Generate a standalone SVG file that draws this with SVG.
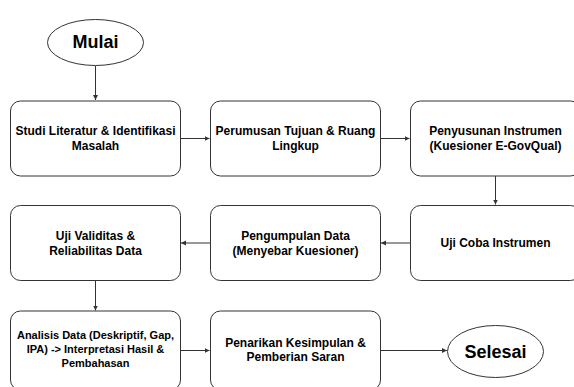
<svg xmlns="http://www.w3.org/2000/svg" width="574" height="387" viewBox="0 0 574 387">
<style>
.n{fill:#ffffff;stroke:#333333;stroke-width:1}
.t{font-family:"Liberation Sans",Arial,sans-serif;font-weight:bold;font-size:12px;fill:#000;text-anchor:middle}
.big{font-size:18px}
.sm{font-size:11px}
.c{stroke:#333333;stroke-width:1;fill:none;marker-end:url(#ah)}
</style>
<defs>
<marker id="ah" markerWidth="6" markerHeight="6" refX="5" refY="3" orient="auto" markerUnits="userSpaceOnUse">
<path d="M0,0.5 L5,3 L0,5.5 Z" fill="#333333"/>
</marker>
</defs>
<rect width="574" height="387" fill="#ffffff"/>
<g id="connectors">
<path class="c" d="M95.5,66 V100"/>
<path class="c" d="M180.5,138.5 H209.5"/>
<path class="c" d="M380.5,138.5 H409.5"/>
<path class="c" d="M495.5,176 V204.5"/>
<path class="c" d="M410.5,243 H381"/>
<path class="c" d="M210.5,243 H181"/>
<path class="c" d="M95.5,281 V310.5"/>
<path class="c" d="M180.5,350.5 H209.5"/>
<path class="c" d="M380.5,350.5 H447"/>
</g>
<g id="mulai">
<ellipse class="n" cx="95.5" cy="42.5" rx="48" ry="23"/>
<text class="t big" x="95.5" y="48">Mulai</text>
</g>
<g id="studi">
<rect class="n" x="10.5" y="101" width="170" height="75" rx="10"/>
<text class="t" x="95.5" y="135.3">Studi Literatur &amp; Identifikasi</text>
<text class="t" x="95.5" y="150.3">Masalah</text>
</g>
<g id="perumusan">
<rect class="n" x="210.5" y="101" width="170" height="75" rx="10"/>
<text class="t" x="295.5" y="135.3">Perumusan Tujuan &amp; Ruang</text>
<text class="t" x="295.5" y="150.3">Lingkup</text>
</g>
<g id="penyusunan">
<rect class="n" x="410.5" y="101" width="170" height="75" rx="10"/>
<text class="t" x="495.5" y="135.3">Penyusunan Instrumen</text>
<text class="t" x="495.5" y="150.3">(Kuesioner E-GovQual)</text>
</g>
<g id="ujicoba">
<rect class="n" x="410.5" y="205.5" width="170" height="75" rx="10"/>
<text class="t" x="495.5" y="247.3">Uji Coba Instrumen</text>
</g>
<g id="pengumpulan">
<rect class="n" x="210.5" y="205.5" width="170" height="75" rx="10"/>
<text class="t" x="295.5" y="239.8">Pengumpulan Data</text>
<text class="t" x="295.5" y="254.8">(Menyebar Kuesioner)</text>
</g>
<g id="validitas">
<rect class="n" x="10.5" y="205.5" width="170" height="75" rx="10"/>
<text class="t" x="95.5" y="239.8">Uji Validitas &amp;</text>
<text class="t" x="95.5" y="254.8">Reliabilitas Data</text>
</g>
<g id="analisis">
<rect class="n" x="10.5" y="311" width="170" height="79" rx="10"/>
<text class="t sm" x="95.5" y="339.3">Analisis Data (Deskriptif, Gap,</text>
<text class="t sm" x="95.5" y="353.3">IPA) -&gt; Interpretasi Hasil &amp;</text>
<text class="t sm" x="95.5" y="367.3">Pembahasan</text>
</g>
<g id="penarikan">
<rect class="n" x="210.5" y="311" width="170" height="79" rx="10"/>
<text class="t" x="295.5" y="346.5">Penarikan Kesimpulan &amp;</text>
<text class="t" x="295.5" y="361">Pemberian Saran</text>
</g>
<g id="selesai">
<ellipse class="n" cx="495.5" cy="351.5" rx="48" ry="26"/>
<text class="t big" x="495.5" y="357.5">Selesai</text>
</g>
</svg>
